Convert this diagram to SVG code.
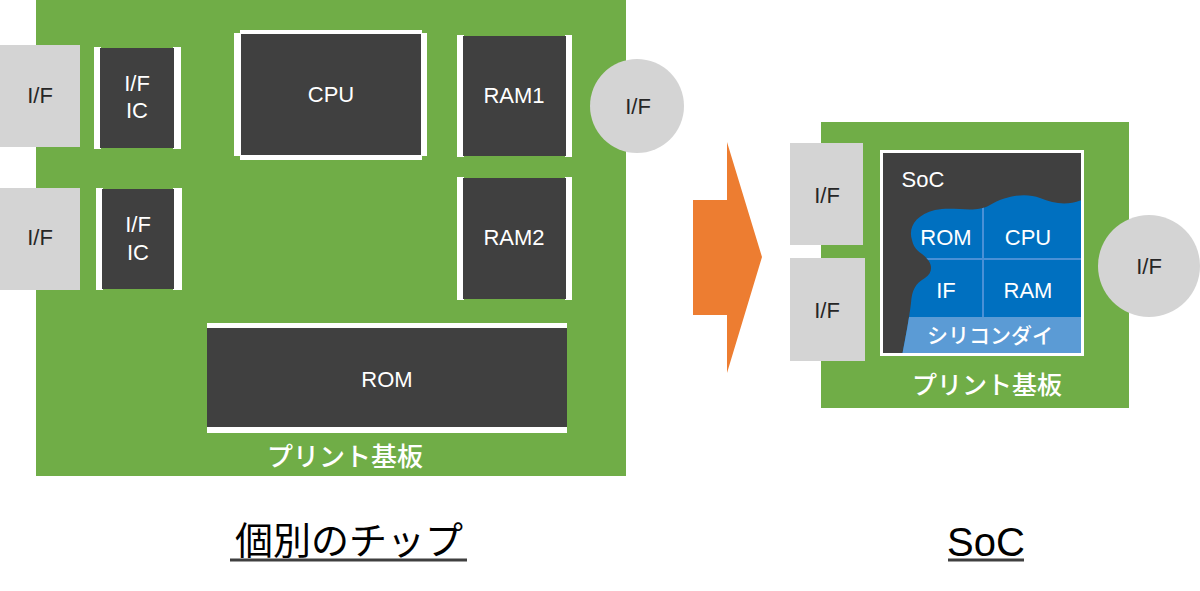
<svg xmlns="http://www.w3.org/2000/svg" width="1200" height="591" viewBox="0 0 1200 591">
<style>
.board{fill:#70AD47}
.chip{fill:#404040}
.pin{fill:#FFFFFF}
.io{fill:#D4D4D4}
.lbl{font-family:"Liberation Sans","Noto Sans CJK JP",sans-serif;font-size:22px;text-anchor:middle}
.w{fill:#FFFFFF}
.k{fill:#262626}
.jp{font-family:"Noto Sans CJK JP","Noto Sans CJK SC",sans-serif;text-anchor:middle}
.med{font-weight:500}
</style>
<defs>
<clipPath id="socIn"><rect x="883" y="153" width="198" height="200"/></clipPath>
<clipPath id="dieClip"><path id="dieShape" d="M912,240 C908,228 915,215 935,210 C955,206 975,214 990,205 C1005,196 1025,192 1040,198 C1055,204 1068,206 1084,199 L1084,356 L902,356 C905,340 909,320 911,303 C912,290 915,284 925,278 C934,272 933,262 922,254 C915,249 913,245 912,240 Z"/></clipPath>
</defs>
<rect width="1200" height="591" fill="#FFFFFF"/>

<!-- Left: individual chips -->
<g id="board-left">
<rect class="board" x="36" y="0" width="590" height="476"/>
<text class="jp w med" x="345" y="466" font-size="26">プリント基板</text>
</g>
<g id="if-left-1">
<rect class="io" x="0" y="45" width="80" height="102"/>
<text class="lbl k" x="40" y="103">I/F</text>
</g>
<g id="if-left-2">
<rect class="io" x="0" y="188" width="80" height="102"/>
<text class="lbl k" x="40" y="245">I/F</text>
</g>
<g id="ific-1">
<rect class="pin" x="94" y="47" width="7" height="102"/>
<rect class="pin" x="173" y="47" width="8" height="102"/>
<rect class="chip" x="100" y="48" width="74" height="100"/>
<text class="lbl w" x="137" y="91">I/F</text>
<text class="lbl w" x="137" y="118">IC</text>
</g>
<g id="ific-2">
<rect class="pin" x="96" y="188" width="7" height="102"/>
<rect class="pin" x="173" y="188" width="9" height="102"/>
<rect class="chip" x="102" y="189" width="72" height="100"/>
<text class="lbl w" x="138" y="232">I/F</text>
<text class="lbl w" x="138" y="260">IC</text>
</g>
<g id="cpu">
<rect class="pin" x="240" y="30" width="182" height="5"/>
<rect class="pin" x="240" y="154" width="182" height="6"/>
<rect class="pin" x="234" y="33" width="7" height="123"/>
<rect class="pin" x="420" y="33" width="7" height="123"/>
<rect class="chip" x="241" y="34" width="180" height="121"/>
<text class="lbl w" x="331" y="102">CPU</text>
</g>
<g id="ram1">
<rect class="pin" x="457" y="35" width="7" height="122"/>
<rect class="pin" x="565" y="35" width="7" height="122"/>
<rect class="chip" x="463" y="36" width="103" height="120"/>
<text class="lbl w" x="514" y="103">RAM1</text>
</g>
<g id="ram2">
<rect class="pin" x="457" y="177" width="7" height="123"/>
<rect class="pin" x="565" y="177" width="7" height="123"/>
<rect class="chip" x="463" y="178" width="103" height="121"/>
<text class="lbl w" x="514" y="245">RAM2</text>
</g>
<g id="rom">
<rect class="pin" x="207" y="323" width="360" height="5"/>
<rect class="pin" x="207" y="426" width="360" height="7"/>
<rect class="chip" x="207" y="328" width="360" height="99"/>
<text class="lbl w" x="387" y="387">ROM</text>
</g>
<g id="if-circle-left">
<circle class="io" cx="637" cy="106" r="47"/>
<text class="lbl k" x="638" y="114">I/F</text>
</g>
<g id="title-left">
<text class="jp" x="349" y="554" font-size="38" fill="#000000">個別のチップ</text>
<line x1="230" y1="560" x2="467" y2="560" stroke="#404040" stroke-width="3"/>
</g>

<!-- Arrow -->
<g id="connectors">
<polygon points="693,200 727,200 727,142 762,257 727,373 727,315 693,315" fill="#ED7D31"/>
</g>

<!-- Right: SoC -->
<g id="board-right">
<rect class="board" x="821" y="122" width="308" height="286"/>
<text class="jp w med" x="987" y="394" font-size="25">プリント基板</text>
</g>
<g id="if-right-1">
<rect class="io" x="790" y="143" width="73" height="102"/>
<text class="lbl k" x="827" y="203">I/F</text>
</g>
<g id="if-right-2">
<rect class="io" x="790" y="258" width="75" height="103"/>
<text class="lbl k" x="827" y="318">I/F</text>
</g>
<g id="soc">
<rect x="881.5" y="151.5" width="201" height="203" fill="#404040" stroke="#FFFFFF" stroke-width="3"/>
<text class="lbl w" x="923" y="187" font-size="21">SoC</text>
<g clip-path="url(#socIn)">
<g clip-path="url(#dieClip)">
<rect x="880" y="190" width="206" height="170" fill="#0070C0"/>
<rect x="880" y="317" width="206" height="43" fill="#5B9BD5"/>
<line x1="983" y1="195" x2="983" y2="317" stroke="#4A90D6" stroke-width="2"/>
<line x1="900" y1="259" x2="1084" y2="259" stroke="#4A90D6" stroke-width="2"/>
</g>
</g>
<text class="lbl w" x="946" y="245">ROM</text>
<text class="lbl w" x="1028" y="245">CPU</text>
<text class="lbl w" x="946" y="298">IF</text>
<text class="lbl w" x="1028" y="298">RAM</text>
<text class="jp w med" x="990" y="343" font-size="21">シリコンダイ</text>
</g>
<g id="if-circle-right">
<circle class="io" cx="1149" cy="266" r="51"/>
<text class="lbl k" x="1149" y="274">I/F</text>
</g>
<g id="title-right">
<text x="986" y="556" font-family="Liberation Sans, sans-serif" font-size="40" text-anchor="middle" fill="#000000">SoC</text>
<line x1="948" y1="560" x2="1024" y2="560" stroke="#404040" stroke-width="3"/>
</g>
</svg>
